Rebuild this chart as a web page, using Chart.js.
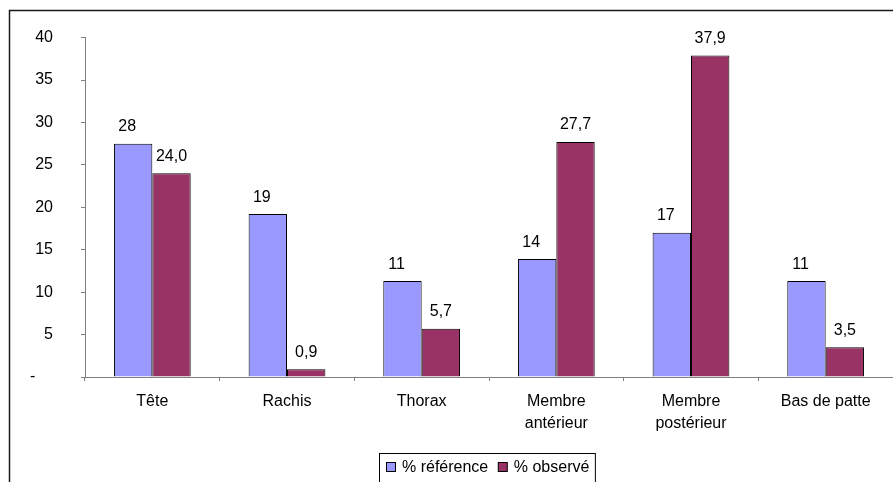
<!DOCTYPE html>
<html lang="fr">
<head>
<meta charset="utf-8">
<title>% référence / % observé</title>
<script src="https://cdn.jsdelivr.net/npm/chart.js@4.4.1/dist/chart.umd.min.js"></script>
<style>
    html, body { margin: 0; padding: 0; background: #fff; }
    canvas { display: block; }
</style>
</head>
<body>
<canvas id="chart" width="893" height="482"></canvas>
<script>
// Categories (multi-line labels as arrays)
const categories = ['Tête', 'Rachis', 'Thorax', ['Membre', 'antérieur'], ['Membre', 'postérieur'], 'Bas de patte'];

// Series values
const referenceValues = [27.5, 19.2, 11.3, 13.9, 17.0, 11.3];
const observedValues = [24.0, 0.9, 5.7, 27.7, 37.9, 3.5];

// Series names
const seriesNames = ['% référence', '% observé'];

// Y axis ticks
const yTicks = [0, 5, 10, 15, 20, 25, 30, 35, 40];

const FONT = 'Arial, "Liberation Sans", sans-serif';

// Frame around the whole chart (left and top edges visible)
const framePlugin = {
    id: 'frame',
    beforeDraw(chart) {
        const ctx = chart.ctx;
        ctx.save();
        ctx.strokeStyle = '#1a1a1a';
        ctx.lineWidth = 1.5;
        ctx.beginPath();
        ctx.moveTo(9.5, chart.height + 5);
        ctx.lineTo(9.5, 10.5);
        ctx.lineTo(chart.width + 5, 10.5);
        ctx.stroke();
        ctx.restore();
    }
};

// Value labels above each bar
const valueLabelPlugin = {
    id: 'valueLabels',
    afterDatasetsDraw(chart) {
        const ctx = chart.ctx;
        ctx.save();
        ctx.font = '16px ' + FONT;
        ctx.fillStyle = '#000';
        ctx.textAlign = 'center';
        ctx.textBaseline = 'alphabetic';
        chart.data.datasets.forEach((ds, di) => {
            const meta = chart.getDatasetMeta(di);
            meta.data.forEach((bar, i) => {
                const v = ds.data[i];
                let text, dx;
                if (di === 0) {
                    text = Math.round(v).toString();
                    dx = -6;
                } else {
                    text = v.toFixed(1).replace('.', ',');
                    dx = 0;
                }
                ctx.fillText(text, bar.x + dx, bar.y - 12.5);
            });
        });
        ctx.restore();
    }
};

// Boxed legend at the bottom
const boxLegendPlugin = {
    id: 'boxLegend',
    afterDraw(chart) {
        const ctx = chart.ctx;
        ctx.save();
        ctx.font = '16px ' + FONT;
        ctx.textBaseline = 'alphabetic';
        const boxLeft = 379.5, boxTop = 453.5;
        let x = boxLeft + 7;
        const widths = [];
        chart.data.datasets.forEach(ds => widths.push(ctx.measureText(ds.label).width));
        chart.data.datasets.forEach((ds, i) => {
            ctx.fillStyle = ds.backgroundColor;
            ctx.fillRect(x, 462.5, 9, 9);
            ctx.strokeStyle = '#000';
            ctx.lineWidth = 1;
            ctx.strokeRect(x, 462.5, 9, 9);
            ctx.fillStyle = '#000';
            ctx.fillText(ds.label, x + 15.5, 472);
            x += 15.5 + widths[i] + 10;
        });
        ctx.strokeStyle = '#000';
        ctx.lineWidth = 1;
        ctx.strokeRect(boxLeft, boxTop, x - 4 - boxLeft, 60);
        ctx.restore();
    }
};

new Chart(document.getElementById('chart'), {
    type: 'bar',
    data: {
        labels: categories,
        datasets: [
            {
                label: seriesNames[0],
                data: referenceValues,
                backgroundColor: '#9999FF',
                borderColor: '#000',
                borderWidth: 1,
                barPercentage: 1,
                categoryPercentage: 0.57
            },
            {
                label: seriesNames[1],
                data: observedValues,
                backgroundColor: '#993366',
                borderColor: '#000',
                borderWidth: 1,
                barPercentage: 1,
                categoryPercentage: 0.57
            }
        ]
    },
    options: {
        responsive: false,
        animation: false,
        layout: { padding: { top: 37, left: 0, right: 0, bottom: 0 } },
        plugins: {
            legend: { display: false },
            tooltip: { enabled: false }
        },
        scales: {
            x: {
                grid: { drawOnChartArea: false, color: '#808080', tickLength: 4 },
                border: { display: true, color: '#808080', width: 1 },
                ticks: {
                    color: '#000',
                    font: { family: FONT, size: 16, lineHeight: 1.4 },
                    padding: 9,
                    maxRotation: 0,
                    autoSkip: false
                },
                afterFit(scale) { scale.height = 105; }
            },
            y: {
                min: 0,
                max: 40,
                afterBuildTicks(scale) { scale.ticks = yTicks.map(v => ({ value: v })); },
                grid: { drawOnChartArea: false, color: '#808080', tickLength: 4 },
                border: { display: true, color: '#808080', width: 1 },
                ticks: {
                    color: '#000',
                    font: { family: FONT, size: 16 },
                    padding: 28,
                    callback: v => (v === 0 ? '-    ' : v)
                },
                afterFit(scale) { scale.width = 85; }
            }
        }
    },
    plugins: [framePlugin, valueLabelPlugin, boxLegendPlugin]
});
</script>
</body>
</html>
